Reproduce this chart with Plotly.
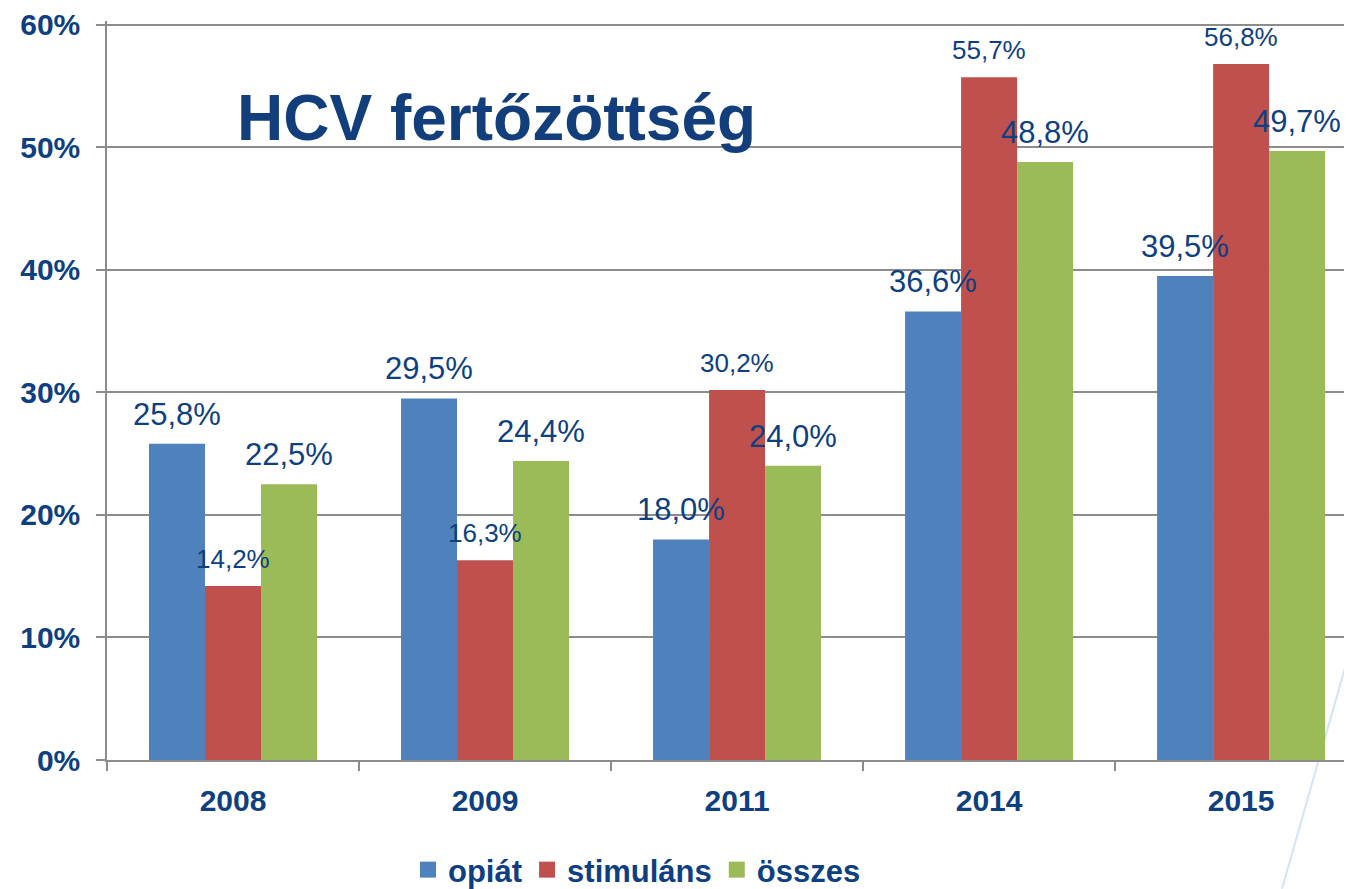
import plotly.graph_objects as go

years = ["2008", "2009", "2011", "2014", "2015"]
opiat = [25.8, 29.5, 18.0, 36.6, 39.5]
stimulans = [14.2, 16.3, 30.2, 55.7, 56.8]
osszes = [22.5, 24.4, 24.0, 48.8, 49.7]
series_names = ["opiát", "stimuláns", "összes"]
y_ticks = [0, 10, 20, 30, 40, 50, 60]
y_tick_text = [f"{v}%" for v in y_ticks]

colors = ["#4F81BD", "#C0504D", "#9BBB59"]
label_sizes = [31, 26, 31]
label_shift = [10, 10, 10]
text_color = "#0E3F80"
grid_color = "#8C8C8C"
FONT = "Liberation Sans, Arial, sans-serif"

# page body has an 8px margin; figure is sized to fill the rest of the window
W, H = 1344, 881
OFF = 8
BOTTOM_PX, TOP60_PX = 760, 22.7
Y_TOP = 60.3                     # a hair above the top gridline so it is drawn
px_per_unit = (BOTTOM_PX - TOP60_PX) / 60.0
top_px = BOTTOM_PX - Y_TOP * px_per_unit

fig = go.Figure()
all_series = [opiat, stimulans, osszes]
for name, vals, col in zip(series_names, all_series, colors):
    fig.add_trace(go.Bar(
        x=years, y=vals, name=name, marker=dict(color=col, line=dict(width=0)),
        showlegend=False, offsetgroup=name,
    ))
# legend entries with larger square symbols
for name, col in zip(series_names, colors):
    fig.add_trace(go.Scatter(
        x=[None], y=[None], mode="markers", name=name,
        marker=dict(symbol="square", size=16, color=col), showlegend=True,
    ))

# data labels (centred over each bar)
n = len(all_series)
group_w = 1 - 1 / 3
bar_w = group_w / n
for si, (vals, size, ys) in enumerate(zip(all_series, label_sizes, label_shift)):
    for xi, v in enumerate(vals):
        fig.add_annotation(
            x=xi - group_w / 2 + bar_w * (si + 0.5), y=v, xref="x", yref="y",
            text=f"{v:.1f}".replace(".", ",") + "%",
            showarrow=False, yanchor="bottom", yshift=ys,
            font=dict(family=FONT, size=size, color=text_color),
        )

# decorative faint line from slide background
plot_h = BOTTOM_PX - top_px
fig.add_shape(type="line", xref="paper", yref="paper",
              x0=1.0, y0=(BOTTOM_PX - 643) / plot_h, x1=(1282 - 107) / 1245,
              y1=(BOTTOM_PX - 889) / plot_h,
              line=dict(color="#D3E4F3", width=2), layer="below")

fig.update_layout(
    width=W, height=H,
    margin=dict(l=107 - OFF, r=0, t=top_px - OFF, b=H - (BOTTOM_PX - OFF)),
    paper_bgcolor="white", plot_bgcolor="white",
    barmode="group", bargap=1 / 3, bargroupgap=0,
    font=dict(family=FONT, color=text_color),
    title=dict(
        text="HCV fertőzöttség", x=(237 - OFF) / W, xanchor="left",
        xref="container", yref="container", y=1 - (118 - OFF) / H, yanchor="middle",
        font=dict(family=FONT, size=64, color="#123E7C", weight="bold"),
    ),
    legend=dict(
        orientation="h", xref="container", yref="container",
        x=(637 - OFF) / W, xanchor="center", y=1 - (870 - OFF) / H, yanchor="middle",
        font=dict(family=FONT, size=31, color=text_color, weight="bold"),
        itemsizing="trace", bgcolor="rgba(0,0,0,0)",
    ),
    xaxis=dict(
        type="category", categoryorder="array", categoryarray=years,
        range=[-0.5, 4.44], showgrid=False, showline=True,
        linecolor=grid_color, linewidth=1.5,
        ticks="outside", ticklen=9, tickcolor=grid_color, tickwidth=1.5,
        tickson="boundaries", ticklabelstandoff=13,
        tickfont=dict(family=FONT, size=30, color=text_color, weight="bold"),
    ),
    yaxis=dict(
        range=[0, Y_TOP], tickmode="array", tickvals=y_ticks, ticktext=y_tick_text,
        showgrid=True, gridcolor=grid_color, gridwidth=1.5,
        showline=True, linecolor=grid_color, linewidth=1.5,
        ticks="outside", ticklen=9, tickcolor=grid_color, tickwidth=1.5,
        zeroline=False, ticklabelstandoff=10, ticklabeloverflow="allow",
        tickfont=dict(family=FONT, size=30, color=text_color, weight="bold"),
    ),
)

fig.write_html("out.html")
